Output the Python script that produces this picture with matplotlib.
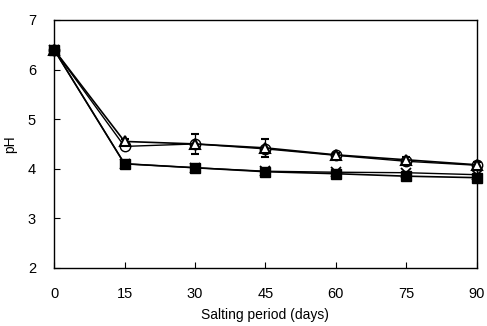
import matplotlib
matplotlib.use("Agg")
import matplotlib.pyplot as plt

plt.rcParams['font.family'] = ['Liberation Sans', 'DejaVu Sans']

days = [0, 15, 30, 45, 60, 75, 90]
ph_circle = [6.40, 4.45, 4.50, 4.40, 4.27, 4.15, 4.07]
ph_triangle = [6.40, 4.55, 4.50, 4.42, 4.28, 4.18, 4.08]
err_triangle = [0.03, 0.05, 0.20, 0.18, 0.04, 0.05, 0.05]
ph_square = [6.40, 4.10, 4.02, 3.94, 3.90, 3.85, 3.82]
ph_star = [6.40, 4.10, 4.02, 3.95, 3.93, 3.92, 3.88]
xticks = [0, 15, 30, 45, 60, 75, 90]
yticks = [2, 3, 4, 5, 6, 7]

fig = plt.figure(figsize=(4.87, 3.26), dpi=100)
ax = fig.add_axes([0.111, 0.178, 0.868, 0.761])

ax.plot(days, ph_star, color='black', lw=1.0, marker='x', ms=7,
        mew=1.3, zorder=4, clip_on=False)
ax.plot(days, ph_circle, color='black', lw=1.0, marker='o', ms=7.5,
        mfc='white', mec='black', zorder=3, clip_on=False)
ax.errorbar(days, ph_triangle, yerr=err_triangle, color='black', lw=1.2,
            marker='^', ms=7, mfc='white', mec='black', mew=1.5,
            capsize=3, elinewidth=0.9, zorder=5, clip_on=False)
ax.plot(days, ph_square, color='black', lw=1.2, marker='s', ms=7,
        mfc='black', mec='black', zorder=6, clip_on=False)

ax.set_xlim(0, 90)
ax.set_ylim(2, 7)
ax.set_xticks(xticks)
ax.set_yticks(yticks)
ax.tick_params(axis='x', direction='in', length=4, pad=14, labelsize=10.5)
ax.tick_params(axis='y', direction='in', length=4, pad=13, labelsize=10.5)
for s in ax.spines.values():
    s.set_linewidth(1.0)
ax.set_xlabel('Salting period (days)', fontsize=10, labelpad=5)
ax.set_ylabel('pH', fontsize=10, labelpad=8)

fig.savefig('out.png', dpi=100)
